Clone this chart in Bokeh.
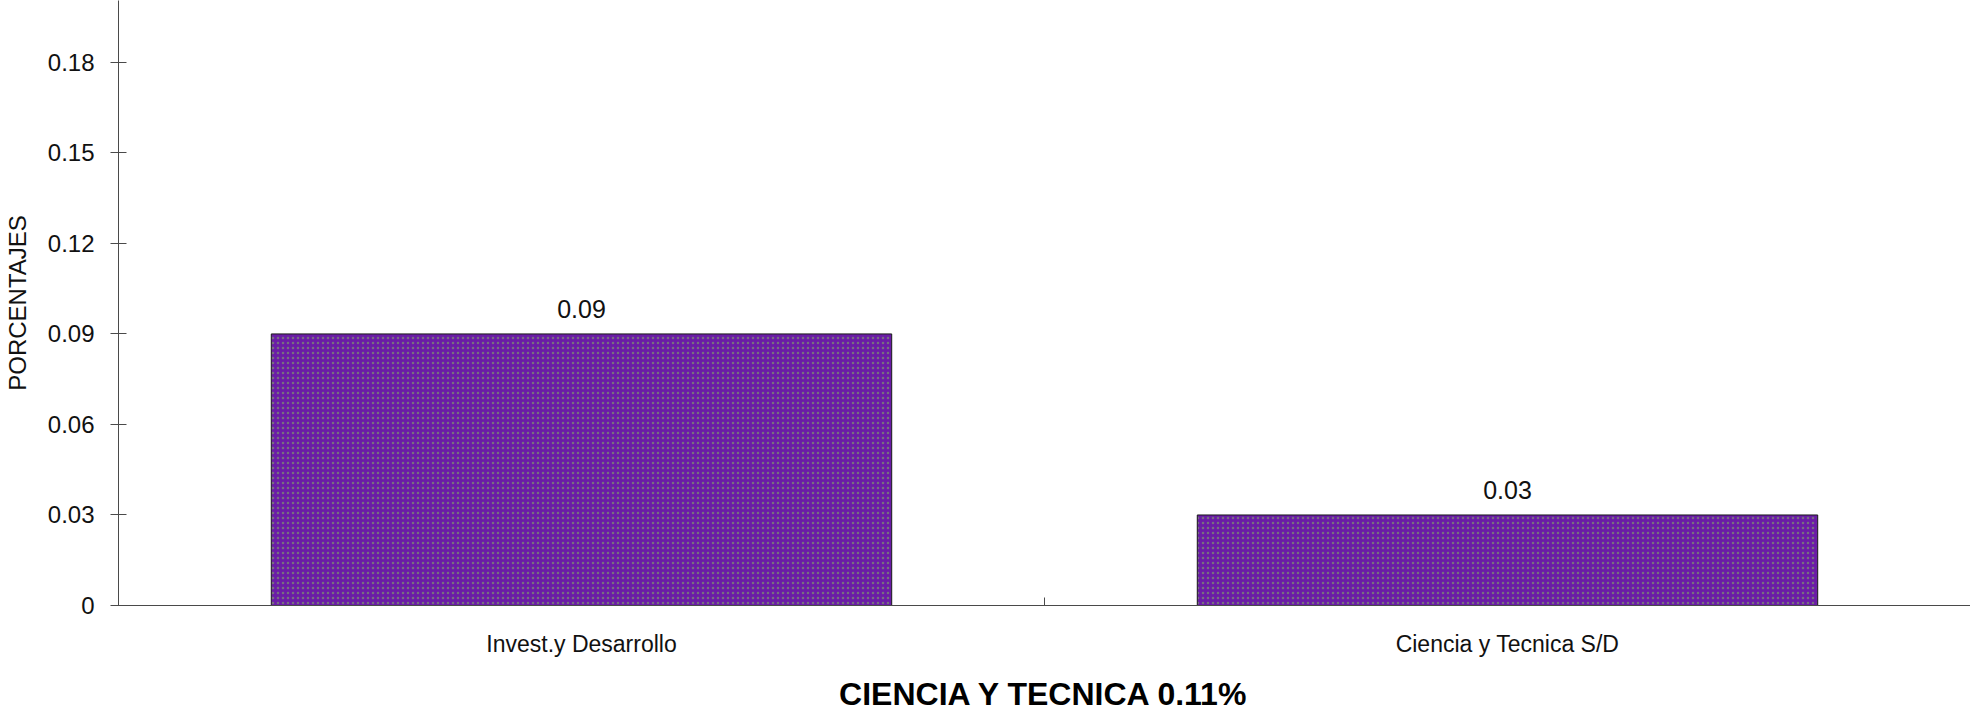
from bokeh.plotting import figure
from bokeh.models import ColumnDataSource, FactorRange, Range1d, FixedTicker
from bokeh.transform import dodge
from bokeh.embed import file_html
from bokeh.resources import INLINE
from bokeh.core.properties import value
import math

categories = ["Invest.y Desarrollo", "Ciencia y Tecnica S/D"]
values = [0.09, 0.03]
value_labels = ["0.09", "0.03"]
y_ticks = [0, 0.03, 0.06, 0.09, 0.12, 0.15, 0.18]
y_tick_labels = {0: "0", 0.03: "0.03", 0.06: "0.06", 0.09: "0.09", 0.12: "0.12", 0.15: "0.15", 0.18: "0.18"}
title_text = "CIENCIA Y TECNICA 0.11%"
y_title = "PORCENTAJES"

FONT = "Liberation Sans"
AXIS_COLOR = "#4a4a4a"

src = ColumnDataSource(dict(cat=categories, val=values, lab=value_labels))
sep = ColumnDataSource(dict(cat=categories[:-1], y=[0] * (len(categories) - 1)))

p = figure(
    width=1970, height=714,
    x_range=FactorRange(*categories),
    y_range=Range1d(0, 0.2005),
    output_backend="svg", toolbar_location=None,
    min_border_left=108, min_border_right=0, min_border_top=0, min_border_bottom=107,
)
p.outline_line_color = None
p.xgrid.grid_line_color = None
p.ygrid.grid_line_color = None
p.background_fill_color = "white"

p.vbar(x="cat", top="val", width=0.67, source=src,
       fill_color="#6a1ca6", line_color="#1a1a1a", line_width=1,
       hatch_pattern="dot", hatch_color="#7a7a7a", hatch_scale=5, hatch_weight=1.6, hatch_alpha=0.85)

p.text(x="cat", y="val", text="lab", source=src,
       text_font=value(FONT), text_font_size="25px", text_color="#111111",
       text_align="center", text_baseline="middle", y_offset=-25)

# separator tick between categories on the x axis
p.scatter(x=dodge("cat", 0.5, range=p.x_range), y="y", source=sep,
          marker="dash", angle=math.pi / 2, size=16, line_color=AXIS_COLOR, line_width=1)

# y axis
ya = p.yaxis[0]
ya.ticker = FixedTicker(ticks=y_ticks)
ya.major_label_overrides = y_tick_labels
ya.minor_tick_line_color = None
ya.major_tick_in = 8
ya.major_tick_out = 8
ya.axis_line_color = AXIS_COLOR
ya.major_tick_line_color = AXIS_COLOR
ya.major_label_text_font = FONT
ya.major_label_text_font_size = "24px"
ya.major_label_text_color = "#111111"
ya.major_label_standoff = 16
ya.axis_label = y_title
ya.axis_label_text_font = FONT
ya.axis_label_text_font_size = "24px"
ya.axis_label_text_font_style = "normal"
ya.axis_label_text_color = "#111111"
ya.axis_label_standoff = 14

# x axis
xa = p.xaxis[0]
xa.major_tick_line_color = None
xa.major_tick_in = 0
xa.major_tick_out = 0
xa.axis_line_color = AXIS_COLOR
xa.major_label_text_font = FONT
xa.major_label_text_font_size = "23px"
xa.major_label_text_color = "#111111"
xa.major_label_standoff = 25
xa.axis_label = title_text
xa.axis_label_text_font = FONT
xa.axis_label_text_font_size = "32px"
xa.axis_label_text_font_style = "bold"
xa.axis_label_text_color = "#000000"
xa.axis_label_standoff = 16

open("out.html", "w").write(file_html(p, INLINE))
